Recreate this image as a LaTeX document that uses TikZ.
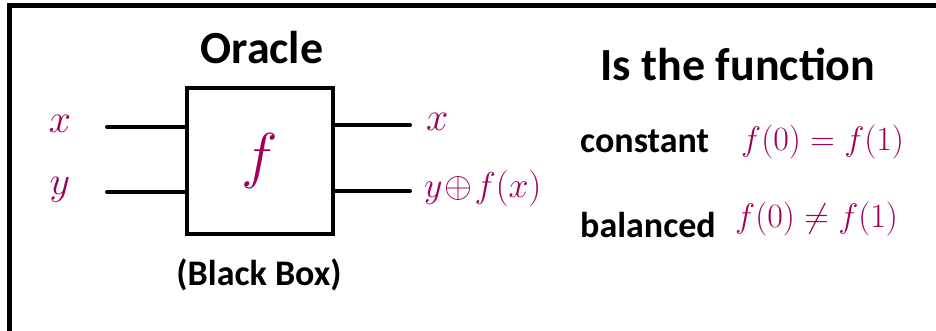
\RequirePackage{fix-cm}
\documentclass[tikz,border=0pt]{standalone}
\usepackage{fontspec}
\setmainfont{Carlito}
\usepackage{xcolor}
\usetikzlibrary{positioning,calc}
\definecolor{inkpink}{RGB}{160,0,90}
\newcommand{\fsz}[1]{\fontsize{#1}{#1}\selectfont}

\begin{document}
\begin{tikzpicture}[
    x=1pt, y=-1pt,
    title/.style={font=\fsz{46}\bfseries, inner sep=0pt},
    caption/.style={font=\fsz{36}\bfseries, inner sep=0pt},
    ink/.style={text=inkpink, font=\fsz{40}, inner sep=0pt},
    wire/.style={line width=4pt, line cap=round},
    oraclebox/.style={rectangle, draw, line width=4pt, minimum width=146pt,
                      minimum height=146pt, inner sep=0pt},
]
    \useasboundingbox (0,0) rectangle (936,331);

    % Frame (cut off at right and bottom)
    \draw[line width=5pt] (9.5,331) -- (9.5,5.5) -- (936,5.5);

    % Oracle
    \node[oraclebox] (oracle) at (260,161) {};
    \node[ink, font=\fsz{62}] (fbox) at (oracle.center) {$f$};
    \node[title] (oname) at (262,48) {Oracle};
    \node[caption] (bbox) at (259,275) {(Black Box)};

    % Inputs
    \node[ink] (inx) at (60,124) {$x$};
    \node[ink] (iny) at (60,190) {$y$};
    \coordinate (inxend) at (107,127);
    \coordinate (inyend) at (107,192);
    \draw[wire] (inxend) -- (inxend -| oracle.west);
    \draw[wire] (inyend) -- (inyend -| oracle.west);

    % Outputs
    \coordinate (outxend) at (410,125);
    \coordinate (outyend) at (410,191);
    \draw[wire] (outxend -| oracle.east) -- (outxend);
    \draw[wire] (outyend -| oracle.east) -- (outyend);
    \node[ink, anchor=west] (outx) at (426,122) {$x$};
    \node[ink, anchor=west, font=\fsz{36}] (outy) at (424,189) {$y\!\oplus\! f(x)$};

    % Question
    \node[title] (quest) at (738,64) {Is the function};
    \node[caption, anchor=base west] (const) at (580,153) {constant};
    \node[caption, anchor=base west] (bal) at (580,237) {balanced};
    \node[ink, anchor=west, font=\fsz{34}] (consteq) at (741,142) {$f(0)=f(1)$};
    \node[ink, anchor=west, font=\fsz{34}] (baleq) at (735,219) {$f(0)\neq f(1)$};
\end{tikzpicture}
\end{document}
